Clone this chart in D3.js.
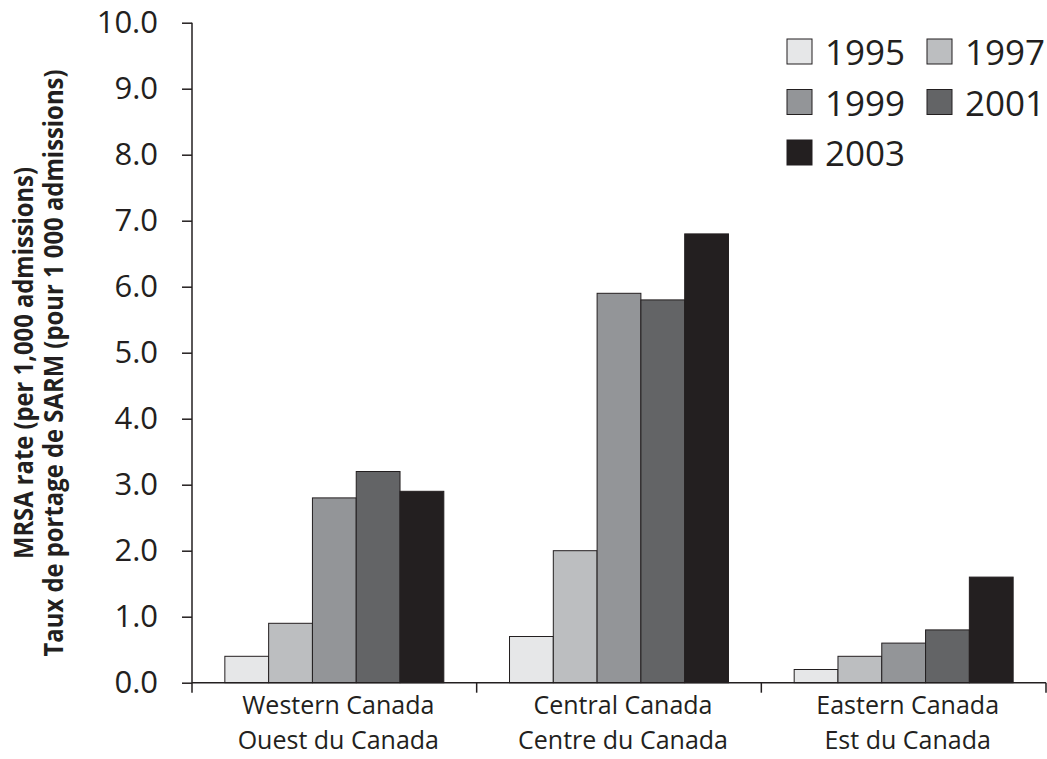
<!DOCTYPE html>
<html>
<head>
<meta charset="utf-8">
<script src="https://cdn.jsdelivr.net/npm/d3@7"></script>
<style>
  body { margin: 0; background: #fff; }
  text { fill: #231f20; }
</style>
</head>
<body>
<div id="chart"></div>
<script>
const regions = ["Western Canada", "Central Canada", "Eastern Canada"]
const regionsFr = ["Ouest du Canada", "Centre du Canada", "Est du Canada"]
const years = ["1995", "1997", "1999", "2001", "2003"]
const yearColors = ["#e6e7e8", "#bcbec0", "#939598", "#636466", "#231f20"]
const rates = {
  "1995": [0.4, 0.7, 0.2],
  "1997": [0.9, 2.0, 0.4],
  "1999": [2.8, 5.9, 0.6],
  "2001": [3.2, 5.8, 0.8],
  "2003": [2.9, 6.8, 1.6]
}
const yTicks = [0, 1, 2, 3, 4, 5, 6, 7, 8, 9, 10]
const yTitle = ["MRSA rate (per 1,000 admissions)", "Taux de portage de SARM (pour 1 000 admissions)"]

const W = 1047, H = 759
const MARGIN = { TOP: 22.7, LEFT: 192, RIGHT: 1, BOTTOM: 76.3 }
const WIDTH = W - MARGIN.LEFT - MARGIN.RIGHT
const HEIGHT = H - MARGIN.TOP - MARGIN.BOTTOM
const INK = "#231f20"
const FONT = "'Open Sans', 'DejaVu Sans', sans-serif"

const svg = d3.select("#chart").append("svg")
  .attr("width", W)
  .attr("height", H)

const g = svg.append("g")
  .attr("transform", `translate(${MARGIN.LEFT}, ${MARGIN.TOP})`)

const x0 = d3.scaleBand().domain(regions).range([0, WIDTH])
const x1 = d3.scaleBand().domain(years).range([0, x0.bandwidth()]).paddingOuter(0.75)
const y = d3.scaleLinear().domain([0, 10]).range([HEIGHT, 0])
const color = d3.scaleOrdinal().domain(years).range(yearColors)

// bars
const groups = g.selectAll(".region")
  .data(regions)
  .enter().append("g")
    .attr("class", "region")
    .attr("transform", d => `translate(${x0(d)}, 0)`)

groups.selectAll("rect")
  .data((d, i) => years.map(yr => ({ year: yr, value: rates[yr][i] })))
  .enter().append("rect")
    .attr("x", d => x1(d.year))
    .attr("y", d => y(d.value))
    .attr("width", x1.bandwidth())
    .attr("height", d => HEIGHT - y(d.value))
    .attr("fill", d => color(d.year))
    .attr("stroke", INK)
    .attr("stroke-width", 1)

// y axis
const yAxis = g.append("g")
  .call(d3.axisLeft(y).tickValues(yTicks).tickFormat(d3.format(".1f")).tickSize(10).tickPadding(24))
yAxis.select(".domain").remove()
yAxis.append("line")
  .attr("x1", 0).attr("x2", 0)
  .attr("y1", y(10)).attr("y2", HEIGHT + 10)
yAxis.selectAll("line").attr("stroke", INK).attr("stroke-width", 1.5)
yAxis.selectAll("text")
  .attr("font-family", FONT)
  .attr("font-size", 31)
  .attr("fill", INK)

// x axis
const xAxis = g.append("g").attr("transform", `translate(0, ${HEIGHT})`)
xAxis.append("line")
  .attr("x1", 0).attr("x2", WIDTH)
  .attr("stroke", INK).attr("stroke-width", 1.5)
xAxis.selectAll(".sep")
  .data(regions.slice(1).map(r => x0(r)).concat([WIDTH]))
  .enter().append("line")
    .attr("class", "sep")
    .attr("x1", d => d).attr("x2", d => d)
    .attr("y1", 0).attr("y2", 10)
    .attr("stroke", INK).attr("stroke-width", 1.5)

// category labels, english line then french line
const catLines = [regions, regionsFr]
catLines.forEach((names, row) => {
  xAxis.selectAll(".cat" + row)
    .data(regions)
    .enter().append("text")
      .attr("class", "cat" + row)
      .attr("x", d => x0(d) + x0.bandwidth() / 2 + 4)
      .attr("y", 31 + row * 35)
      .attr("text-anchor", "middle")
      .attr("font-family", FONT)
      .attr("font-size", 25)
      .attr("fill", INK)
      .text((d, i) => names[i])
})

// y title (condensed bold look)
const titleLen = [392, 587]
svg.selectAll(".ytitle")
  .data(yTitle)
  .enter().append("text")
    .attr("class", "ytitle")
    .attr("transform", (d, i) => `translate(${33 + i * 30}, 363) rotate(-90)`)
    .attr("text-anchor", "middle")
    .attr("font-family", FONT)
    .attr("font-weight", "bold")
    .attr("font-size", 26)
    .attr("textLength", (d, i) => titleLen[i])
    .attr("lengthAdjust", "spacingAndGlyphs")
    .attr("fill", INK)
    .text(d => d)

// legend
const legend = svg.append("g").attr("transform", "translate(787, 39)")
const items = legend.selectAll(".item")
  .data(years)
  .enter().append("g")
    .attr("class", "item")
    .attr("transform", (d, i) => `translate(${(i % 2) * 140}, ${Math.floor(i / 2) * 50.5})`)
items.append("rect")
  .attr("width", 25).attr("height", 25)
  .attr("fill", d => color(d))
  .attr("stroke", INK).attr("stroke-width", 1)
items.append("text")
  .attr("x", 38)
  .attr("y", 26)
  .attr("font-family", FONT)
  .attr("font-size", 35)
  .attr("fill", INK)
  .text(d => d)
</script>
</body>
</html>
